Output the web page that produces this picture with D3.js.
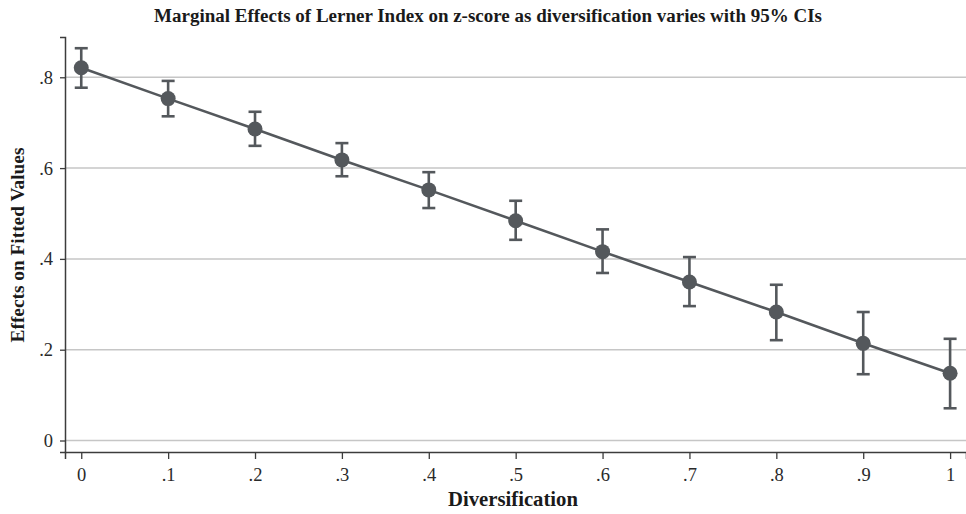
<!DOCTYPE html>
<html><head><meta charset="utf-8">
<script src="https://cdn.jsdelivr.net/npm/d3@7"></script>
<style>body{margin:0;background:#fff}svg{display:block}svg text{font-family:"Liberation Serif","DejaVu Serif",serif !important}</style>
</head><body>
<svg id="c" width="966" height="514"></svg>
<script>
const diversification = [0, 0.1, 0.2, 0.3, 0.4, 0.5, 0.6, 0.7, 0.8, 0.9, 1];
const effect = [0.821, 0.753, 0.686, 0.618, 0.552, 0.484, 0.416, 0.349, 0.283, 0.214, 0.148];
const ciLower = [0.777, 0.714, 0.649, 0.582, 0.512, 0.442, 0.369, 0.296, 0.221, 0.146, 0.071];
const ciUpper = [0.864, 0.792, 0.724, 0.655, 0.591, 0.528, 0.465, 0.404, 0.343, 0.283, 0.224];
const xTicks = [0, 0.1, 0.2, 0.3, 0.4, 0.5, 0.6, 0.7, 0.8, 0.9, 1];
const xTickLabels = ["0", ".1", ".2", ".3", ".4", ".5", ".6", ".7", ".8", ".9", "1"];
const yTicks = [0, 0.2, 0.4, 0.6, 0.8];
const yTickLabels = ["0", ".2", ".4", ".6", ".8"];

const svg = d3.select("#c");
const col = "#54585c";
const x = d3.scaleLinear().domain([-0.0187, 1.0183]).range([65, 966]);
const y = d3.scaleLinear().domain([-0.0253, 0.8887]).range([452, 37]);

// gridlines
svg.append("g").selectAll("line").data(yTicks).join("line")
  .attr("x1", 65).attr("x2", 966)
  .attr("y1", d => y(d)).attr("y2", d => y(d))
  .attr("stroke", "#c6c6c6").attr("stroke-width", 1.5);

// axes
const yAxis = d3.axisLeft(y).tickValues(yTicks).tickFormat((d,i)=>yTickLabels[i]).tickSize(5).tickPadding(7);
const gy = svg.append("g").attr("transform","translate(65,0)").call(yAxis);
const xAxis = d3.axisBottom(x).tickValues(xTicks).tickFormat((d,i)=>xTickLabels[i]).tickSize(7).tickPadding(9);
const gx = svg.append("g").attr("transform","translate(0,452)").call(xAxis);
[gx, gy].forEach(g => {
  g.attr("font-size", 18.5);
  g.select(".domain").attr("stroke", "#3c3c3c").attr("stroke-width", 1.5);
  g.selectAll(".tick line").attr("stroke", "#3c3c3c").attr("stroke-width", 1.3);
  g.selectAll(".tick text").attr("fill", "#2a2a2a");
});

// line
svg.append("path").datum(diversification.map((d,i)=>[d, effect[i]]))
  .attr("d", d3.line().x(d=>x(d[0])).y(d=>y(d[1])))
  .attr("fill","none").attr("stroke", col).attr("stroke-width", 2.6);

// error bars
const eb = svg.append("g").attr("stroke", col).attr("stroke-width", 2.6);
diversification.forEach((d,i) => {
  eb.append("line").attr("x1", x(d)).attr("x2", x(d)).attr("y1", y(ciLower[i])).attr("y2", y(ciUpper[i]));
  eb.append("line").attr("x1", x(d)-6.5).attr("x2", x(d)+6.5).attr("y1", y(ciLower[i])).attr("y2", y(ciLower[i]));
  eb.append("line").attr("x1", x(d)-6.5).attr("x2", x(d)+6.5).attr("y1", y(ciUpper[i])).attr("y2", y(ciUpper[i]));
});

// markers
svg.append("g").selectAll("circle").data(diversification).join("circle")
  .attr("cx", d => x(d)).attr("cy", (d,i) => y(effect[i])).attr("r", 7.5).attr("fill", col);

function fit(sel, w) {
  const fs = +sel.attr("font-size");
  const cur = sel.node().getComputedTextLength();
  sel.attr("font-size", (fs * w / cur).toFixed(2));
}
// title
const t = svg.append("text").attr("x", 488).attr("y", 22).attr("text-anchor","middle")
  .attr("font-weight","bold").attr("font-size", 17).attr("fill","#1a1a1a")
  .text("Marginal Effects of Lerner Index on z-score as diversification varies with 95% CIs");
fit(t, 668);
// x label
const xl = svg.append("text").attr("x", 513).attr("y", 506).attr("text-anchor","middle")
  .attr("font-weight","bold").attr("font-size", 17).attr("fill","#1a1a1a").text("Diversification");
fit(xl, 130);
// y label
const yl = svg.append("text").attr("transform","translate(24,245) rotate(-90)").attr("text-anchor","middle")
  .attr("font-weight","bold").attr("font-size", 17).attr("fill","#1a1a1a").text("Effects on Fitted Values");
fit(yl, 195);
</script>
</body></html>
